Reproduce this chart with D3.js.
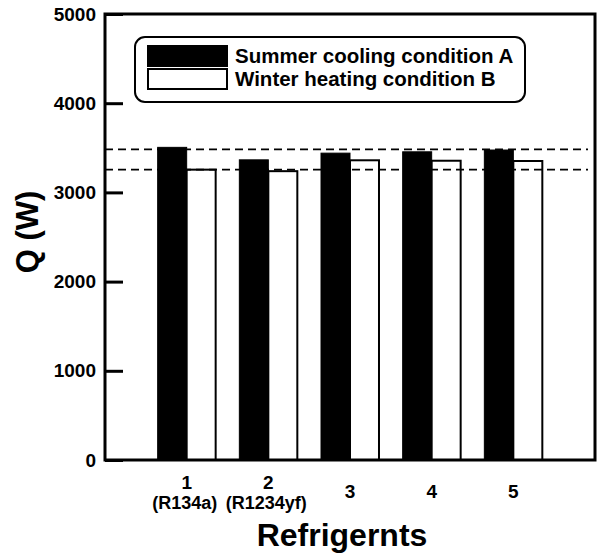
<!DOCTYPE html>
<html>
<head>
<meta charset="utf-8">
<script src="https://cdn.jsdelivr.net/npm/d3@7"></script>
<style>
    body { margin: 0; background: #fff; }
    svg text { font-family: "Liberation Sans", Arial, sans-serif; font-weight: bold; fill: #000; }
</style>
</head>
<body>
<div id="chart"></div>
<script>
// data
let refrigerants = [1, 2, 3, 4, 5];
let refrigerantNames = ["(R134a)", "(R1234yf)", "", "", ""];
let summerA = [3505, 3365, 3440, 3455, 3475];
let winterB = [3255, 3238, 3360, 3355, 3352];
let dashedLevels = [3482, 3255];
let yTicks = [0, 1000, 2000, 3000, 4000, 5000];
let legendLabels = ["Summer cooling condition A", "Winter heating condition B"];

let width = 600, height = 556;
let plot = {left: 105, right: 595, top: 14, bottom: 460};

let svg = d3.select("#chart").append("svg")
    .attr("width", width)
    .attr("height", height);

let x = d3.scaleLinear()
    .domain([0, 6])
    .range([plot.left, plot.right]);

let y = d3.scaleLinear()
    .domain([0, 5000])
    .range([plot.bottom, plot.top]);

let barW = x(0.355) - x(0);

// bars
let bars = svg.append("g");
bars.selectAll("rect.a")
    .data(refrigerants)
    .enter().append("rect")
    .attr("class", "a")
    .attr("x", (d) => x(d) - barW)
    .attr("y", (d, i) => y(summerA[i]))
    .attr("width", barW)
    .attr("height", (d, i) => y(0) - y(summerA[i]))
    .attr("fill", "#000")
    .attr("stroke", "#000")
    .attr("stroke-width", 1);

bars.selectAll("rect.b")
    .data(refrigerants)
    .enter().append("rect")
    .attr("class", "b")
    .attr("x", (d) => x(d))
    .attr("y", (d, i) => y(winterB[i]))
    .attr("width", barW)
    .attr("height", (d, i) => y(0) - y(winterB[i]))
    .attr("fill", "#fff")
    .attr("stroke", "#000")
    .attr("stroke-width", 2);

// dashed reference lines
svg.append("g").selectAll("line")
    .data(dashedLevels)
    .enter().append("line")
    .attr("x1", plot.left)
    .attr("x2", plot.right - 7)
    .attr("y1", (d) => y(d))
    .attr("y2", (d) => y(d))
    .attr("stroke", "#000")
    .attr("stroke-width", 1.8)
    .attr("stroke-dasharray", "8,5");

// frame (no right ticks, no x ticks)
svg.append("rect")
    .attr("x", plot.left)
    .attr("y", plot.top)
    .attr("width", plot.right - plot.left)
    .attr("height", plot.bottom - plot.top)
    .attr("fill", "none")
    .attr("stroke", "#000")
    .attr("stroke-width", 3);

// y axis
let yAxis = d3.axisLeft(y)
    .tickValues(yTicks)
    .tickFormat(d3.format("d"))
    .tickSizeInner(-18)
    .tickSizeOuter(0)
    .tickPadding(9);

let yGroup = svg.append("g")
    .attr("transform", "translate(" + plot.left + ",0)")
    .call(yAxis);
yGroup.select(".domain").remove();
yGroup.selectAll("line").attr("stroke", "#000").attr("stroke-width", 3);
yGroup.selectAll("text")
    .style("font-size", "19px")
    .style("font-family", "'Liberation Sans', Arial, sans-serif")
    .style("font-weight", "bold")
    .attr("fill", "#000");

// x labels
let xLabels = svg.append("g");
xLabels.selectAll("text.num")
    .data(refrigerants)
    .enter().append("text")
    .attr("class", "num")
    .attr("x", (d) => x(d))
    .attr("y", (d, i) => refrigerantNames[i] ? 489 : 498)
    .attr("text-anchor", "middle")
    .style("font-size", "19px")
    .text((d) => d);

xLabels.selectAll("text.name")
    .data(refrigerants)
    .enter().append("text")
    .attr("class", "name")
    .attr("x", (d) => x(d) - 2)
    .attr("y", 509)
    .attr("text-anchor", "middle")
    .style("font-size", "18px")
    .text((d, i) => refrigerantNames[i]);

// axis titles
svg.append("text")
    .attr("x", 342)
    .attr("y", 546)
    .attr("text-anchor", "middle")
    .style("font-size", "32px")
    .text("Refrigernts");

svg.append("text")
    .attr("transform", "translate(38,232) rotate(-90)")
    .attr("text-anchor", "middle")
    .style("font-size", "31px")
    .text("Q (W)");

// legend
let legend = svg.append("g");
legend.append("rect")
    .attr("x", 135)
    .attr("y", 37)
    .attr("width", 390)
    .attr("height", 65)
    .attr("rx", 10)
    .attr("fill", "#fff")
    .attr("stroke", "#000")
    .attr("stroke-width", 2);

let items = legend.selectAll("g.item")
    .data(legendLabels)
    .enter().append("g")
    .attr("class", "item")
    .attr("transform", (d, i) => "translate(0," + i * 23 + ")");

items.append("rect")
    .attr("x", 148)
    .attr("y", 46)
    .attr("width", 79)
    .attr("height", 20)
    .attr("fill", (d, i) => i == 0 ? "#000" : "#fff")
    .attr("stroke", "#000")
    .attr("stroke-width", 2);

items.append("text")
    .attr("x", 235)
    .attr("y", 63)
    .style("font-size", "20.5px")
    .text((d) => d);
</script>
</body>
</html>
